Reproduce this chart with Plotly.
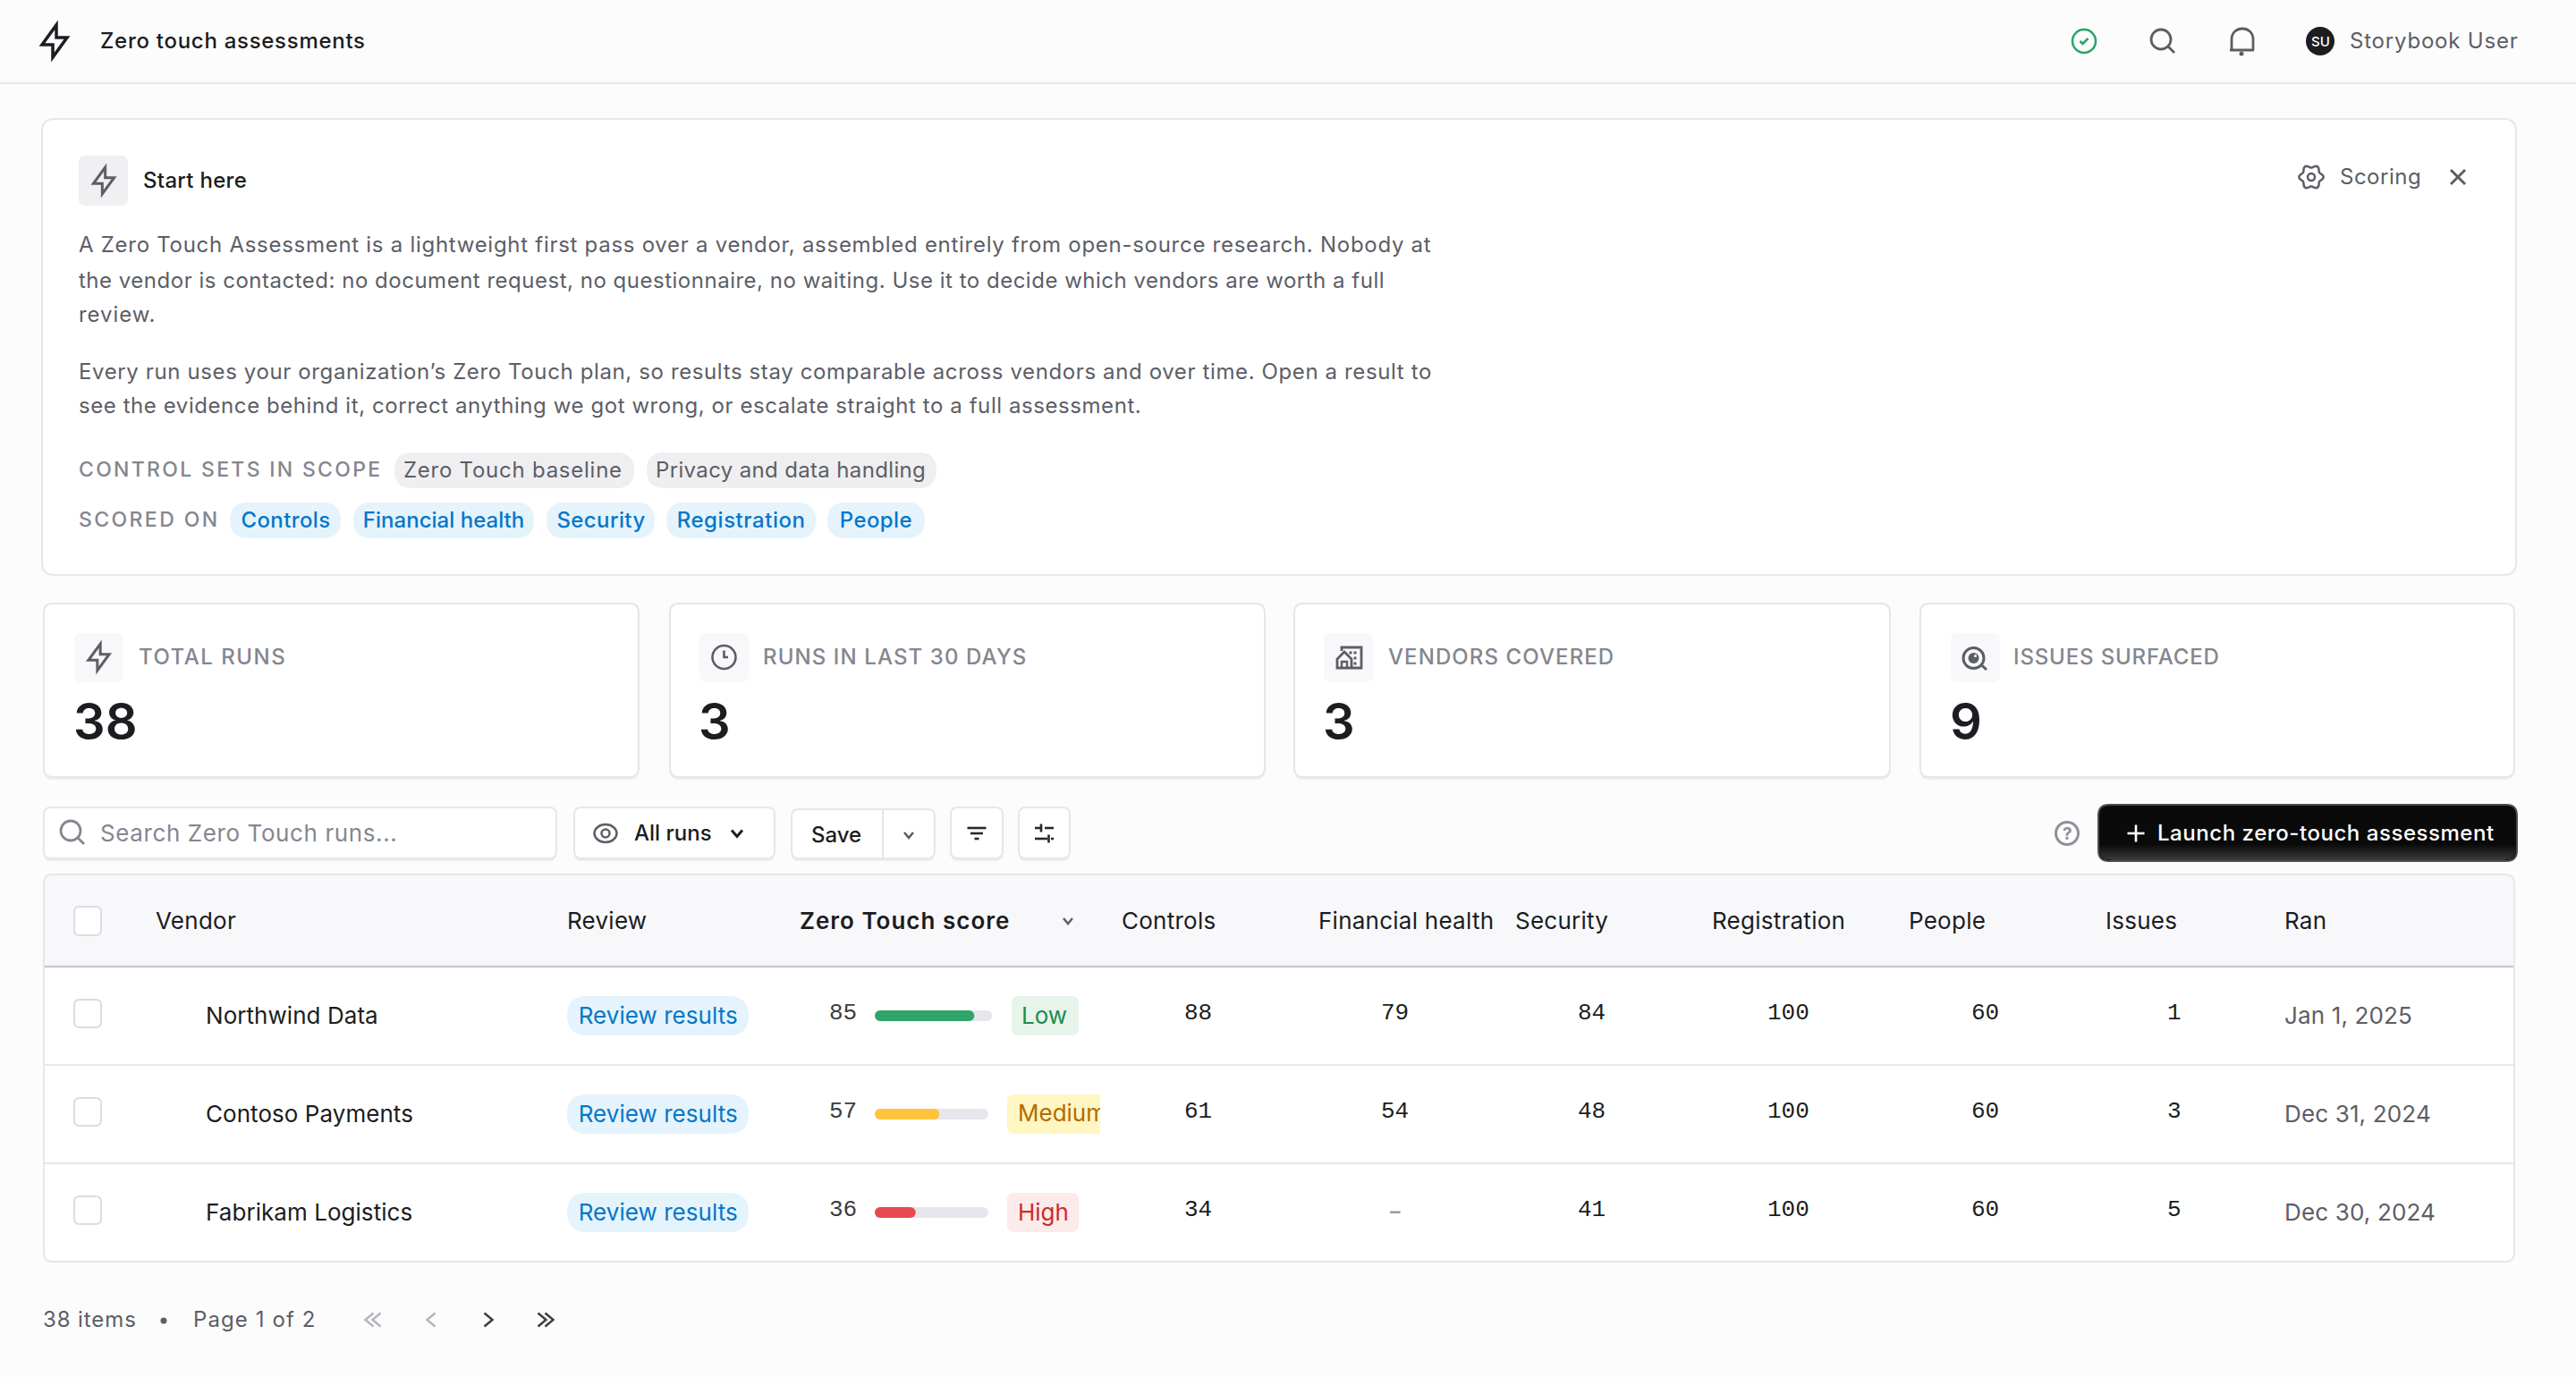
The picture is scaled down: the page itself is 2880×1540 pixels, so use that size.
import json
import math
import plotly.graph_objects as go

W, H = 2880, 1540
BG = "#fcfcfc"
INK = "#1b1d21"
BODY = "#5c5e66"
MUTED = "#85868f"
LINE = "#e6e6ec"
BLUE = "#0477c9"
BLUE_BG = "#e5f3fd"
FONT = "Inter"
MONO = "Liberation Mono"

page_title = "Zero touch assessments"
user_name = "Storybook User"
user_initials = "SU"
intro_title = "Start here"
intro_lines = [
    "A Zero Touch Assessment is a lightweight first pass over a vendor, assembled entirely from open-source research. Nobody at",
    "the vendor is contacted: no document request, no questionnaire, no waiting. Use it to decide which vendors are worth a full",
    "review.",
    "Every run uses your organization’s Zero Touch plan, so results stay comparable across vendors and over time. Open a result to",
    "see the evidence behind it, correct anything we got wrong, or escalate straight to a full assessment.",
]
control_sets = ["Zero Touch baseline", "Privacy and data handling"]
scored_on = ["Controls", "Financial health", "Security", "Registration", "People"]
kpi_labels = ["TOTAL RUNS", "RUNS IN LAST 30 DAYS", "VENDORS COVERED", "ISSUES SURFACED"]
kpi_values = ["38", "3", "3", "9"]
columns = ["Vendor", "Review", "Zero Touch score", "Controls", "Financial health", "Security",
           "Registration", "People", "Issues", "Ran"]
vendors = ["Northwind Data", "Contoso Payments", "Fabrikam Logistics"]
scores = [85, 57, 36]
risk = ["Low", "Medium", "High"]
controls = ["88", "61", "34"]
financial = ["79", "54", "–"]
security = ["84", "48", "41"]
registration = ["100", "100", "100"]
people = ["60", "60", "60"]
issues = ["1", "3", "5"]
ran = ["Jan 1, 2025", "Dec 31, 2024", "Dec 30, 2024"]

shapes, ann, spacing = [], [], []


def rr(x0, y0, x1, y1, r, fill=None, line=None, lw=2, rs=None):
    tl, tr, br, bl = rs if rs else (r, r, r, r)
    p = (f"M {x0+tl},{y0} L {x1-tr},{y0} Q {x1},{y0} {x1},{y0+tr} L {x1},{y1-br} Q {x1},{y1} {x1-br},{y1} "
         f"L {x0+bl},{y1} Q {x0},{y1} {x0},{y1-bl} L {x0},{y0+tl} Q {x0},{y0} {x0+tl},{y0} Z")
    shapes.append(dict(type="path", path=p, xref="x", yref="y", layer="below",
                       fillcolor=fill or "rgba(0,0,0,0)",
                       line=dict(color=line or "rgba(0,0,0,0)", width=lw if line else 0)))


def card(x0, y0, x1, y1, r=10, fill="#ffffff", shadow=True):
    if shadow:
        rr(x0, y0 + 3, x1, y1 + 3, r, fill="#ecedf1")
    rr(x0, y0, x1, y1, r, fill=fill, line=LINE, lw=2)


def txt(x, y, s, size=24, color=INK, weight=400, anchor="left", family=FONT, yref="y", yshift=0, ls=0.72):
    if yref == "y":
        y = y - 0.7
    ann.append(dict(x=x, y=y, xref="x", yref=yref, text=s, showarrow=False, xanchor=anchor, align=anchor,
                    yanchor="middle", yshift=yshift, borderpad=0, borderwidth=0,
                    font=dict(family=family, size=size, color=color, weight=weight)))
    spacing.append(ls)


def poly(cx, cy, s, pts, color, lw=3, close=False, fill=None):
    d = "M " + " L ".join(f"{cx+(a-12)*s:.2f},{cy+(b-12)*s:.2f}" for a, b in pts) + (" Z" if close else "")
    shapes.append(dict(type="path", path=d, xref="x", yref="y", layer="below",
                       fillcolor=fill or "rgba(0,0,0,0)", line=dict(color=color, width=lw)))


def pl(pts, color, lw=3, close=False, fill=None):
    poly(12, 12, 1, pts, color, lw, close, fill)


def circ(cx, cy, r, color=None, lw=3, fill=None, ry=None):
    ry = ry or r
    shapes.append(dict(type="circle", xref="x", yref="y", layer="below", x0=cx-r, x1=cx+r, y0=cy-ry, y1=cy+ry,
                       fillcolor=fill or "rgba(0,0,0,0)",
                       line=dict(color=color or "rgba(0,0,0,0)", width=lw if color else 0)))


BOLT = [(13, 3), (13, 10), (19, 10), (11, 21), (11, 14), (5, 14)]


def bolt(cx, cy, s, color, lw=3):
    poly(cx, cy, s, BOLT, color, lw, close=True)


def chevron(cx, cy, w, h, color, lw=2.5, dir="down"):
    if dir == "down":
        pts = [(cx-w, cy-h), (cx, cy+h), (cx+w, cy-h)]
    elif dir == "left":
        pts = [(cx+h, cy-w), (cx-h, cy), (cx+h, cy+w)]
    else:
        pts = [(cx-h, cy-w), (cx+h, cy), (cx-h, cy+w)]
    pl(pts, color, lw)


# page chrome
rr(-4, -4, W + 4, 93, 0, fill=BG, line=LINE, lw=2)
bolt(61, 46, 2, INK, 3.5)
txt(112, 46, page_title, 24, INK, 500)
circ(2330, 46, 13, "#27a567", 2.5)
poly(2330, 46, 1.5, [(9, 12), (11, 14), (15, 10)], "#27a567", 2.5)
circ(2416, 44, 11, BODY, 2.8)
poly(2419, 47, 1.5, [(15, 15), (20, 20)], BODY, 2.8)
shapes.append(dict(type="path", xref="x", yref="y", layer="below", fillcolor="rgba(0,0,0,0)",
                   line=dict(color=BODY, width=2.8),
                   path="M 2495,56 L 2495,44 C 2495,28 2519,28 2519,44 L 2519,56 M 2493,56 L 2520,56"))
circ(2506, 60, 2.5, fill=BODY)
circ(2594, 46, 16, fill=INK)
txt(2594, 47, user_initials, 15, "#ffffff", 500, "center", ls=0)
txt(2627, 46, user_name, 24, BODY, 400, ls=0.8)

# intro card
card(47, 133, 2813, 643, 14, shadow=False)
rr(88, 174, 143, 230, 8, fill="#f0f0f3")
bolt(116, 202, 1.66, BODY, 3)
txt(160, 202, intro_title, 24, INK, 500, ls=0.3)
for y, s, k in zip([274, 314, 352, 416, 454], intro_lines, [0.72, 0.51, 0.95, 0.62, 0.57]):
    txt(88, y, s, 24, BODY, ls=k)
gear = [(2584 + (12 + 1.6 * math.cos(6 * a * math.pi / 36)) * math.cos(a * math.pi / 36),
         198 + (12 + 1.6 * math.cos(6 * a * math.pi / 36)) * math.sin(a * math.pi / 36)) for a in range(72)]
pl(gear, BODY, 2.5, close=True)
circ(2584, 198, 4, BODY, 2.5)
txt(2616, 198, "Scoring", 24, BODY, ls=0.5)
pl([(2740, 190), (2756, 206)], BODY, 3)
pl([(2756, 190), (2740, 206)], BODY, 3)

txt(88, 526, "CONTROL SETS IN SCOPE", 23, MUTED, 500, ls=2.3)
for (a, b), s, tx, k in zip([(441, 709), (723, 1047)], control_sets, [451, 733], [0.75, 0.35]):
    rr(a, 506, b, 546, 20, fill="#efeff2")
    txt(tx, 526, s, 24, BODY, ls=k)
txt(88, 582, "SCORED ON", 23, MUTED, 500, ls=2.4)
for (a, b), s, k in zip([(257, 381), (395, 597), (611, 732), (745, 912), (925, 1034)], scored_on,
                        [0.4, 0.02, 0.4, 0.55, 0.4]):
    rr(a, 562, b, 602, 20, fill=BLUE_BG)
    txt((a + b) / 2, 582, s, 24, BLUE, 500, "center", ls=k)

# KPI cards
kpi_x = [(49, 714), (749, 1414), (1447, 2113), (2147, 2811)]
kpi_tile = [83, 782, 1480, 2181]
kpi_label_x = [155, 853, 1552, 2251]
kpi_ls = [1.5, 1.1, 1.1, 0.85]
for i, ((a, b), t, lx, k, lab, val) in enumerate(zip(kpi_x, kpi_tile, kpi_label_x, kpi_ls, kpi_labels, kpi_values)):
    card(a, 675, b, 869, 10)
    rr(t, 708, t + 55, 763, 8, fill="#f8f8fa")
    c = t + 27.5
    if i == 0:
        bolt(c, 735, 1.66, BODY, 3)
    elif i == 1:
        circ(c, 735, 13, BODY, 2.6)
        poly(c, 735, 1.5, [(12, 7), (12, 12), (15, 12)], BODY, 2.6)
    elif i == 2:
        pl([(c-7.5, 728), (c-7.5, 724), (c+14.5, 724), (c+14.5, 747), (c-12.5, 747), (c-12.5, 737),
            (c-4.5, 729), (c+3.5, 737), (c+3.5, 747)], BODY, 2.8)
        pl([(c-7.5, 747), (c-7.5, 740), (c-1.5, 740), (c-1.5, 747)], BODY, 2.4)
        for dx, dy in [(2.5, 730), (7.5, 730), (7.5, 736), (7.5, 742)]:
            rr(c+dx-1.5, dy-1.5, c+dx+1.5, dy+1.5, 0, fill=BODY)
    else:
        circ(c-2, 736, 11.5, BODY, 3)
        circ(c-2, 736, 6, fill=BODY)
        circ(c, 733.5, 1.5, fill="#f8f8fa")
        pl([(c+6, 743), (c+12.5, 749)], BODY, 3)
    txt(lx, 735.5, lab, 24, MUTED, 500, ls=k)
    txt(t - 1, 808, val, 56, INK, 600, ls=0)

# toolbar
card(49, 903, 622, 960, 8)
circ(79, 929, 11, MUTED, 2.8)
pl([(87, 937), (94, 944)], MUTED, 2.8)
txt(112, 932, "Search Zero Touch runs...", 26, MUTED, ls=0.6)
card(642, 903, 866, 960, 8)
circ(677, 932, 12.5, BODY, 2.5, ry=10)
circ(677, 932, 4.5, BODY, 2.5)
txt(709, 932, "All runs", 24, INK, 500, ls=0)
chevron(824, 932, 6, 3.5, INK, 3)
card(885, 905, 1045, 960, 8)
shapes.append(dict(type="line", xref="x", yref="y", layer="below", x0=987, x1=987, y0=906, y1=959, line=dict(color=LINE, width=2)))
txt(907, 934, "Save", 24, INK, 500, ls=0)
chevron(1016, 934, 5, 3, BODY, 2.5)
card(1063, 903, 1121, 960, 8)
for y, hw in [(926, 10.5), (932, 7), (938, 2.5)]:
    pl([(1092-hw, y), (1092+hw, y)], "#27282d", 2.6)
card(1139, 903, 1196, 960, 8)
pl([(1157, 926), (1163, 926)], "#27282d", 2.6)
pl([(1164, 921.5), (1164, 930.5)], "#27282d", 2.6)
pl([(1168, 926), (1178, 926)], "#27282d", 2.6)
pl([(1157, 938), (1171, 938)], "#27282d", 2.6)
pl([(1172.5, 933.5), (1172.5, 942.5)], "#27282d", 2.6)
pl([(1175, 938), (1178, 938)], "#27282d", 2.6)
circ(2311, 932, 12.5, "#8f909a", 3)
txt(2311, 933, "?", 19, "#8f909a", 700, "center", ls=0)
BX0, BX1, BY0, BY1, BR = 2346, 2814, 900, 963, 12
rr(BX0, BY0, BX1, BY1, BR, fill="#0a0a0a")
for k in range(10):
    y0 = 943 + k * 2
    shade = 10 + int(k * 5.4)
    dy = max(0, y0 + 2 - (BY1 - BR))
    inset = BR - math.sqrt(max(BR * BR - dy * dy, 0)) + 1
    shapes.append(dict(type="rect", xref="x", yref="y", layer="below", x0=BX0 + inset, x1=BX1 - inset,
                       y0=y0, y1=y0 + 2, fillcolor=f"rgb({shade},{shade},{shade})", line=dict(width=0)))
rr(BX0, BY0, BX1, BY1, BR, line="#4c4c4c", lw=2)
pl([(2378.5, 932), (2397.5, 932)], "#ffffff", 2.6)
pl([(2388, 922.5), (2388, 941.5)], "#ffffff", 2.6)
txt(2412, 932, "Launch zero-touch assessment", 24, "#ffffff", 500, ls=0.55)

# table
rr(49, 978, 2811, 1411, 10, fill="#ffffff", line=LINE, lw=2)
rr(50, 979, 2810, 1081, 10, fill="#f8f8fb", rs=(10, 10, 0, 0))
for y, col, lw in [(1081, "#c8c8d4", 2.5), (1191, LINE, 2), (1301, LINE, 2)]:
    shapes.append(dict(type="line", xref="x", yref="y", layer="below", x0=50, x1=2810, y0=y, y1=y,
                       line=dict(color=col, width=lw)))
rr(83, 1014, 113, 1046, 6, fill="#ffffff", line="#dcdce3", lw=2)
head_x = [174, 634, 894, 1254, 1474, 1694, 1914, 2134, 2354, 2554]
for x, s in zip(head_x, columns):
    key = s == "Zero Touch score"
    txt(x, 1030.5, s, 26, INK, 600 if key else 400, ls=1.0 if key else 0.25)
chevron(1194, 1030, 5, 3, BODY, 2.5)

for v, yc in zip(vendors, [1136, 1246, 1356]):
    rr(83, yc - 18, 113, yc + 13, 6, fill="#ffffff", line="#dcdce3", lw=2)
    rr(634, yc - 22, 837, yc + 22, 22, fill=BLUE_BG)
badge_cfg = {
    "Low": (1131, 1206, 1136, "#e6f4ea", "#1f8a50", 1142),
    "Medium": (1126, 1230, 1246, "#fff6c2", "#b36b00", 1138),
    "High": (1126, 1206, 1356, "#fdeaea", "#cc2b2b", 1138),
}
for k, (a, b, yc, f, c, tx) in badge_cfg.items():
    rs = (8, 0, 0, 8) if k == "Medium" else None
    rr(a, yc - 22, b, yc + 22, 8, fill=f, rs=rs)

for v, sc, r, k1, k2, k3, k4, k5, k6, d in zip(vendors, scores, risk, controls, financial, security,
                                               registration, people, issues, ran):
    txt(230, v, v, 26, INK, 400, yref="y2", yshift=1, ls=0.05)
    txt(735.5, v, "Review results", 26, BLUE, 400, "center", yref="y2", yshift=1, ls=0.05)
    txt(958, v, str(sc), 26, "#3a3c42", 400, "right", MONO, yref="y2", yshift=3, ls=0)
    if r != "Medium":
        a, b, yc, f, c, tx = badge_cfg[r]
        txt(tx, v, r, 26, c, 400, yref="y2", yshift=1, ls=0)
    for x, val in zip([1355, 1575, 1795, 2023, 2235, 2439], [k1, k2, k3, k4, k5, k6]):
        if val == "–":
            txt(1560, v, val, 26, "#9a9aa6", 700, "center", MONO, yref="y2", yshift=1, ls=0)
        else:
            txt(x, v, val, 26, INK, 400, "right", MONO, yref="y2", yshift=3, ls=0)
    txt(2554, v, d, 26, BODY, 400, yref="y2", yshift=1, ls=0.15)

# pagination
txt(48, 1476, "38 items", 24, BODY, ls=0.9)
circ(183, 1477, 3.5, fill=BODY)
txt(216, 1476, "Page 1 of 2", 24, BODY, ls=1.1)
for cx in (413, 421):
    chevron(cx, 1476, 7.5, 4.5, "#b5b5bf", 2.5, "left")
chevron(482, 1476, 7.5, 4.5, "#b5b5bf", 2.5, "left")
chevron(546, 1476, 7.5, 4.5, "#3d3f45", 2.5, "right")
for cx in (606, 614):
    chevron(cx, 1476, 7.5, 4.5, "#3d3f45", 2.5, "right")

# score bars, drawn from the data on their own 0-100 axes
fig = go.Figure()
BAR_COL = {"Low": "#2fa56a", "Medium": "#ffc43d", "High": "#e8494f"}
TRACK = 100


def pill_bar(names, vals, colors, xa):
    common = dict(orientation="h", y=names, xaxis=xa, yaxis="y2", marker_line_width=0,
                  hoverinfo="skip", showlegend=False, marker_color=colors)
    for sign in (1, -1):
        fig.add_trace(go.Bar(x=[sign * v / 2 for v in vals], base=[v / 2 for v in vals],
                             marker_cornerradius=6, **common))
    fig.add_trace(go.Bar(x=[v / 2 for v in vals], base=[v / 4 for v in vals], **common))


def add_score(names, vals, colors, xa):
    pill_bar(names, [TRACK for _ in vals], ["#e6e6ec" for _ in vals], xa)
    pill_bar(names, vals, colors, xa)


add_score(vendors[:1], scores[:1], [BAR_COL[r] for r in risk[:1]], "x3")
add_score(vendors[1:], scores[1:], [BAR_COL[r] for r in risk[1:]], "x2")

# clipped "Medium" label, clipped by its own axis domain
fig.add_trace(go.Scatter(x=[1138], y=[vendors[1]], mode="text", text=[risk[1]], textposition="middle right",
                         xaxis="x4", yaxis="y3", cliponaxis=True, hoverinfo="skip", showlegend=False,
                         textfont=dict(family=FONT, size=26, color="#b36b00")))
# keeps the page-pixel axis alive
fig.add_trace(go.Scatter(x=[0], y=[0], mode="markers", marker=dict(opacity=0), hoverinfo="skip", showlegend=False))

hidden = dict(visible=False, showgrid=False, zeroline=False, fixedrange=True)
fig.update_layout(
    width=W, height=H, autosize=False, margin=dict(l=0, r=0, t=0, b=0, pad=0),
    paper_bgcolor=BG, plot_bgcolor="rgba(0,0,0,0)", showlegend=False,
    barmode="overlay", bargap=1 - 12 / 110,
    xaxis=dict(range=[0, W], domain=[0, 1], **hidden),
    yaxis=dict(range=[H, 0], domain=[0, 1], **hidden),
    xaxis2=dict(range=[0, 100], domain=[978 / W, 1105 / W], anchor="y2", **hidden),
    xaxis3=dict(range=[0, 100], domain=[978 / W, 1109 / W], anchor="y2", **hidden),
    xaxis4=dict(range=[1126, 1230], domain=[1126 / W, 1230 / W], anchor="y3", **hidden),
    yaxis2=dict(type="category", categoryorder="array", categoryarray=vendors, range=[2.5, -0.5],
                domain=[1 - 1411 / H, 1 - 1081 / H], anchor="x2", **hidden),
    yaxis3=dict(type="category", categoryorder="array", categoryarray=vendors, range=[2.5, -0.5],
                domain=[1 - 1412 / H, 1 - 1082 / H], anchor="x4", **hidden),
    shapes=shapes, annotations=ann,
)
post = ("document.body.style.margin='0';document.body.style.overflow='hidden';document.body.style.background='%s';"
        "var ls=%s;document.querySelectorAll('.annotation-text').forEach(function(t,i){"
        "if(ls[i]){t.style.letterSpacing=ls[i]+'px';}});") % (BG, json.dumps(spacing))
fig.write_html("out.html", config=dict(displayModeBar=False, staticPlot=True), post_script=post)
